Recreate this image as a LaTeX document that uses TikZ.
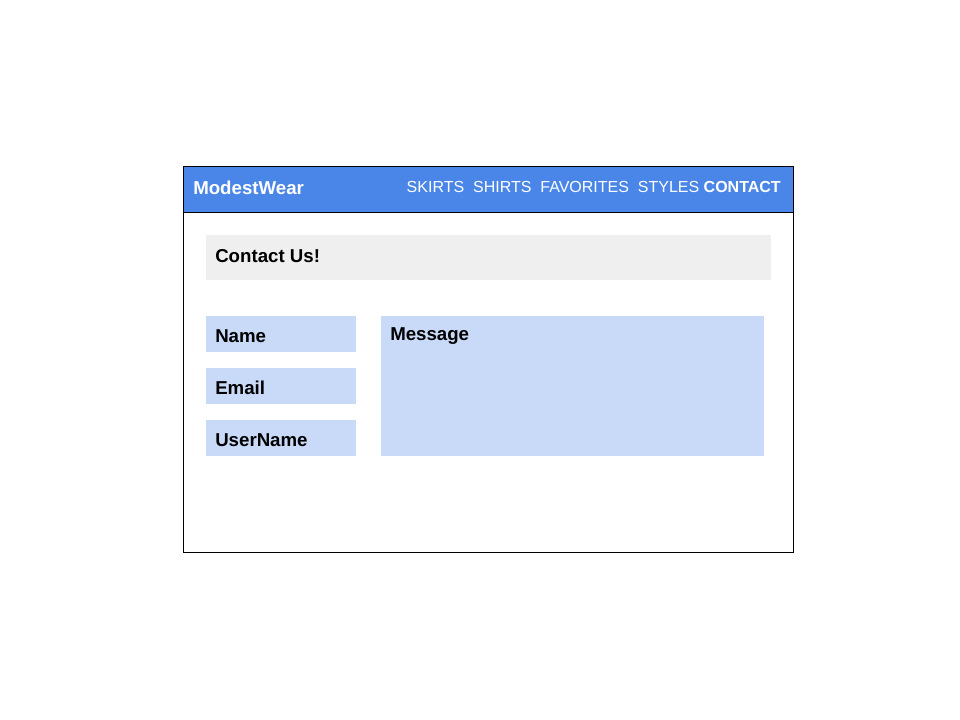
\documentclass[tikz,border=0pt]{standalone}
\usepackage{fontspec}
\setmainfont{Liberation Sans}
\definecolor{navblue}{HTML}{4A86E8}
\definecolor{fieldblue}{HTML}{C9DAF8}
\definecolor{panelgray}{HTML}{EFEFEF}
\begin{document}
\begin{tikzpicture}[x=0.75pt,y=-0.75pt]
  \tikzstyle{box}=[anchor=north west,inner sep=0pt,outer sep=0pt];
  \tikzstyle{field}=[box,fill=fieldblue,minimum width=112.5pt,minimum height=27pt];
  \tikzstyle{label}=[anchor=west,inner sep=0pt,font=\bfseries\fontsize{14}{16}\selectfont];

  \useasboundingbox (0,0) rectangle (960,720);

  % header
  \node[box,fill=navblue,minimum width=457.5pt,minimum height=34.5pt] (header) at (183,167) {};
  \node[box,draw=black,line width=0.75pt,minimum width=457.5pt,minimum height=288.75pt] (page) at (183,167) {};
  \draw [line width=0.75pt] (header.south west) -- (header.south east);
  \node[label,text=white] (brand) at (193,188) {ModestWear};
  \node[anchor=east,inner sep=0pt,text=white,font=\fontsize{12}{14}\selectfont] (nav) at (781,187)
    {SKIRTS~~SHIRTS~~FAVORITES~~STYLES \textbf{CONTACT}};

  % title bar
  \node[box,fill=panelgray,minimum width=423.75pt,minimum height=33.75pt] (title) at (206,235) {};
  \node[label] (titletext) at (215,256) {Contact Us!};

  % fields
  \foreach \y/\t/\n in {316/Name/name,368/Email/email,420/UserName/user}{
    \node[field] (\n) at (206,\y) {};
    \node[label,yshift=-1.5pt] (\n text) at ([xshift=6.75pt]\n.west) {\t};
  }

  % message
  \node[box,fill=fieldblue,minimum width=287.25pt,minimum height=105pt] (message) at (381,316) {};
  \node[label] (messagetext) at ([xshift=6.75pt,yshift=-1.5pt]message.north west |- name.west) {Message};

\end{tikzpicture}
\end{document}
